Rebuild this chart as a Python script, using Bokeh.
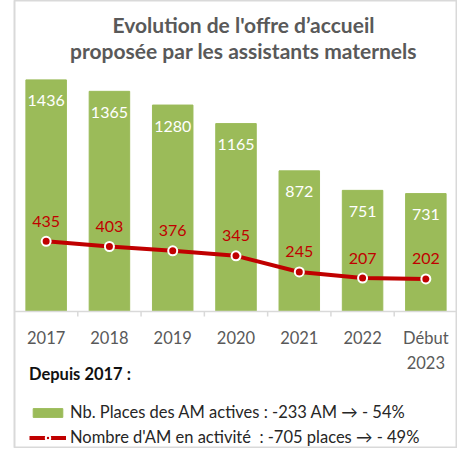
from bokeh.plotting import figure
from bokeh.models import (ColumnDataSource, Legend, LegendItem, Span, Label,
                          FactorRange, Range1d)
from bokeh.transform import dodge
from bokeh.core.properties import value
from bokeh.embed import file_html
from bokeh.resources import INLINE

# ---- data ----
years = ["2017", "2018", "2019", "2020", "2021", "2022", "Début 2023"]
tick_line1 = ["2017", "2018", "2019", "2020", "2021", "2022", "Début"]
tick_line2 = ["", "", "", "", "", "", "2023"]
places = [1436, 1365, 1280, 1165, 872, 751, 731]
am_actifs = [435, 403, 376, 345, 245, 207, 202]
title_lines = ["Evolution de l'offre d’accueil",
               "proposée par les assistants maternels"]
legend_title = "Depuis 2017 :"
legend_labels = ["Nb. Places des AM actives : -233 AM → - 54%",
                 "Nombre d'AM en activité  : -705 places → - 49%"]

GREEN = "#9BBB59"
RED = "#C00000"
GRAY = "#595959"
FONT = "Lato"

W, H = 457, 448
K = 6.2  # data units per pixel
AXIS_FROM_TOP = 311
AXIS_FROM_BOTTOM = H - AXIS_FROM_TOP

src = ColumnDataSource(dict(
    x=years, t1=tick_line1, t2=tick_line2, places=places, am=am_actifs,
    pl=[str(v) for v in places], al=[str(v) for v in am_actifs]))

p = figure(x_range=FactorRange(*years),
           y_range=Range1d(-AXIS_FROM_BOTTOM * K, AXIS_FROM_TOP * K),
           width=W, height=H, output_backend="svg", toolbar_location=None,
           min_border_left=14, min_border_right=0, min_border_top=0,
           min_border_bottom=0)
p.xaxis.visible = False
p.yaxis.visible = False
p.xgrid.grid_line_color = None
p.ygrid.grid_line_color = None
p.outline_line_color = "#d9d9d9"
p.outline_line_width = 2

# title
for txt, yy in zip(title_lines, [H - 24, H - 50]):
    p.add_layout(Label(x=229, y=yy, x_units="screen", y_units="screen",
                       text=txt, text_align="center", text_baseline="middle",
                       text_font=FONT, text_font_size="21px",
                       text_font_style="bold", text_color=GRAY))

bars = p.vbar(x="x", top="places", width=0.64, source=src, color=GREEN)
p.text(x="x", y="places", text="pl", source=src, text_color="white",
       text_align="center", text_baseline="middle", y_offset=21,
       text_font=value(FONT), text_font_size="16px")

# axis line and boundary ticks
p.add_layout(Span(location=0, dimension="width", line_color="#d9d9d9",
                  line_width=1.5))
p.segment(x0=dodge("x", 0.5, range=p.x_range), x1=dodge("x", 0.5, range=p.x_range),
          y0=0, y1=-5 * K, source=src, line_color="#d9d9d9", line_width=1.5)

# tick labels (two lines)
for col, off in (("t1", 26), ("t2", 51)):
    p.text(x="x", y=0, text=col, source=src, text_color=GRAY,
           text_align="center", text_baseline="middle", y_offset=off,
           text_font=value(FONT), text_font_size="16.5px")

line = p.line(x="x", y="am", source=src, line_color=RED, line_width=4)
pts = p.scatter(x="x", y="am", source=src, size=9, fill_color=RED,
                line_color="white", line_width=2)
p.text(x="x", y="am", text="al", source=src, text_color=RED,
       text_align="center", text_baseline="middle", y_offset=-20,
       text_font=value(FONT), text_font_size="16px")

legend = Legend(items=[LegendItem(label=legend_labels[0], renderers=[bars]),
                       LegendItem(label=legend_labels[1], renderers=[line, pts])],
                title=legend_title, location=(15, 1), orientation="vertical",
                border_line_color=None, background_fill_alpha=0,
                title_text_font=FONT, title_text_font_style="bold",
                title_text_font_size="16.5px", title_text_color="#111111",
                title_standoff=18,
                label_text_font=FONT, label_text_font_size="16.5px",
                label_text_color="#262626", glyph_width=37, glyph_height=11,
                label_height=20, label_standoff=4, spacing=5, padding=0,
                margin=0)
p.add_layout(legend)

open("out.html", "w").write(file_html(p, INLINE))
